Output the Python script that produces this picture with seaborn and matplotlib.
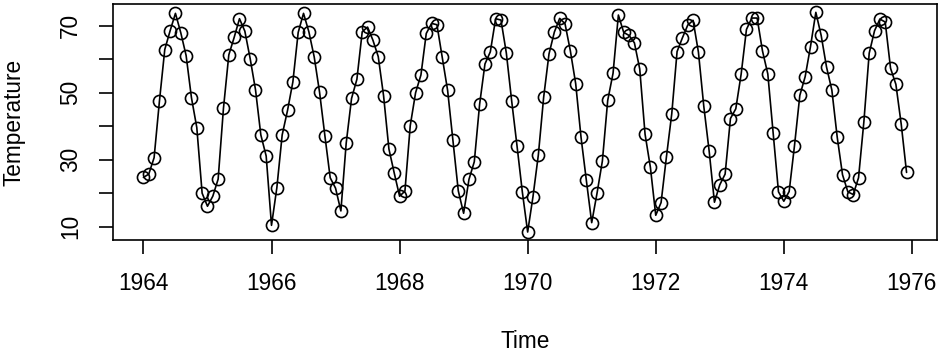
import numpy as np
import pandas as pd
import seaborn as sns
import matplotlib.pyplot as plt

## Monthly temperatures, Jan 1964 - Dec 1975
years = list(range(1964, 1976))
temp_1964 = [24.7, 25.7, 30.6, 47.5, 62.9, 68.5, 73.7, 67.9, 61.1, 48.5, 39.6, 20.0]
temp_1965 = [16.1, 19.1, 24.2, 45.4, 61.3, 66.5, 72.1, 68.4, 60.2, 50.9, 37.4, 31.1]
temp_1966 = [10.4, 21.6, 37.4, 44.7, 53.2, 68.0, 73.7, 68.2, 60.7, 50.2, 37.2, 24.6]
temp_1967 = [21.5, 14.7, 35.0, 48.3, 54.0, 68.2, 69.6, 65.7, 60.8, 49.1, 33.2, 26.0]
temp_1968 = [19.1, 20.6, 40.2, 50.0, 55.3, 67.7, 70.7, 70.3, 60.6, 50.7, 35.8, 20.7]
temp_1969 = [14.0, 24.1, 29.4, 46.6, 58.6, 62.2, 72.1, 71.7, 61.9, 47.6, 34.2, 20.4]
temp_1970 = [8.4, 19.0, 31.4, 48.7, 61.6, 68.1, 72.2, 70.6, 62.5, 52.7, 36.7, 23.8]
temp_1971 = [11.2, 20.0, 29.6, 47.7, 55.8, 73.2, 68.0, 67.1, 64.9, 57.1, 37.6, 27.7]
temp_1972 = [13.4, 17.2, 30.8, 43.7, 62.3, 66.4, 70.2, 71.6, 62.1, 46.0, 32.7, 17.3]
temp_1973 = [22.5, 25.7, 42.3, 45.2, 55.5, 68.9, 72.3, 72.3, 62.5, 55.6, 38.0, 20.4]
temp_1974 = [17.6, 20.5, 34.2, 49.2, 54.8, 63.8, 74.0, 67.1, 57.7, 50.8, 36.8, 25.5]
temp_1975 = [20.4, 19.6, 24.6, 41.3, 61.8, 68.5, 72.0, 71.1, 57.3, 52.5, 40.6, 26.2]

temps = (temp_1964 + temp_1965 + temp_1966 + temp_1967 + temp_1968 + temp_1969 +
         temp_1970 + temp_1971 + temp_1972 + temp_1973 + temp_1974 + temp_1975)
time = [y + m / 12 for y in years for m in range(12)]
df = pd.DataFrame({'time': time, 'temp': temps})

sns.set_style('white')
plt.rcParams['font.family'] = ['Liberation Sans', 'DejaVu Sans']
plt.rcParams['text.color'] = 'black'
plt.rcParams['axes.labelcolor'] = 'black'
plt.rcParams['xtick.color'] = 'black'
plt.rcParams['ytick.color'] = 'black'

fig = plt.figure(figsize=(9.43, 3.61), dpi=100)
ax = fig.add_axes([0.1195, 0.335, 0.874, 0.654])

sns.lineplot(x='time', y='temp', data=df, ax=ax, color='black', linewidth=1.2,
             marker='o', markersize=8.7, markerfacecolor='none',
             markeredgecolor='black', markeredgewidth=1.2)

ax.set_xlim(1963.52, 1976.39)
ax.set_ylim(6.0, 76.5)
ax.set_xticks(range(1964, 1977, 2))
ax.set_yticks(range(10, 71, 10))
ax.set_yticklabels(['10', '', '30', '', '50', '', '70'])
ax.tick_params(axis='both', labelsize=16.3, length=10, width=1.2, direction='out',
               bottom=True, left=True, color='black', labelcolor='black')
ax.tick_params(axis='x', pad=13)
ax.tick_params(axis='y', pad=12)
plt.setp(ax.get_yticklabels(), rotation=90, va='center')
for s in ax.spines.values():
    s.set_color('black')
    s.set_linewidth(1.2)

ax.set_xlabel('Time', fontsize=16.3, labelpad=25)
ax.set_ylabel('Temperature', fontsize=16.3, labelpad=24)

fig.savefig('out.png', dpi=100)
